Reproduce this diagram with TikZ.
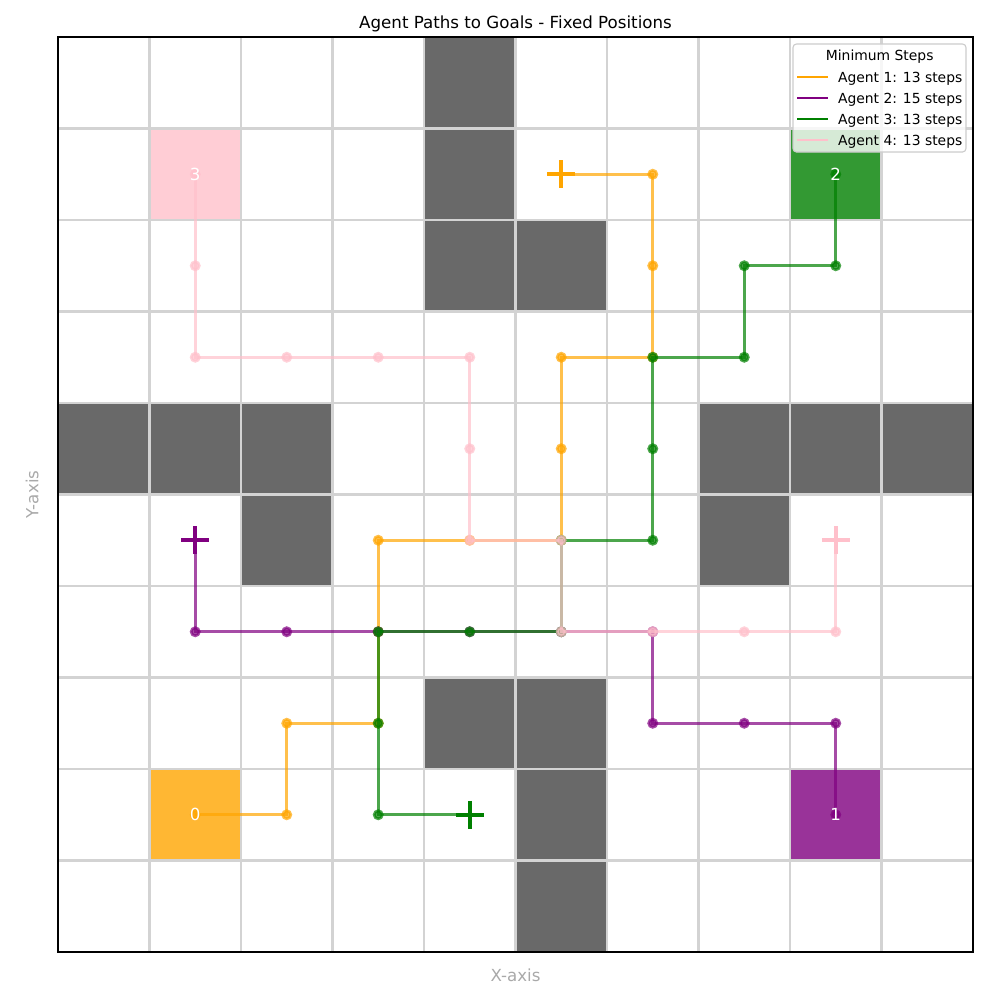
\documentclass[tikz,border=0pt]{standalone}
\usepackage{fontspec}
\setmainfont{DejaVu Sans}
\usetikzlibrary{positioning}
\definecolor{agentone}{HTML}{FFA500}
\definecolor{agenttwo}{HTML}{800080}
\definecolor{agentthree}{HTML}{008000}
\definecolor{agentfour}{HTML}{FFC0CB}
\definecolor{wallgray}{HTML}{696969}
\definecolor{gridgray}{HTML}{D3D3D3}
\definecolor{axisgray}{HTML}{A9A9A9}
\definecolor{legendedge}{HTML}{CCCCCC}
\newcommand{\goalplus}[2]{\draw[goalmark=#1] (#2) ++(-0.152,0) -- ++(0.304,0) (#2) ++(0,-0.152) -- ++(0,0.304);}

\begin{document}
\begin{tikzpicture}[x=65.88pt,y=-65.88pt,
  startcell/.style={fill=#1,fill opacity=0.8},
  gridline/.style={draw=gridgray,line width=2pt},
  route/.style={draw=#1,line width=2pt,opacity=0.7,mark=*,mark size=2.9pt,mark options={fill=#1,draw=#1}},
  goalmark/.style={draw=#1,line width=3pt},
  celllabel/.style={text=white,font=\fontsize{12}{14}\selectfont,inner sep=0pt},
  axlabel/.style={text=axisgray,font=\fontsize{12}{14}\selectfont,inner sep=0pt,anchor=base},
  legtext/.style={font=\fontsize{10}{12}\selectfont,inner sep=0pt,anchor=base west}]
\useasboundingbox (-0.6339,-0.4044) rectangle (10.2951,10.5246);

\foreach \c/\r in {4/0,4/1,4/2,5/2,0/4,1/4,2/4,7/4,8/4,9/4,2/5,7/5,4/7,5/7,5/8,5/9}
  \fill[wallgray] (\c,\r) rectangle ++(1,1);
\fill[startcell=agentone] (1,8) rectangle ++(1,1);
\fill[startcell=agenttwo] (8,8) rectangle ++(1,1);
\fill[startcell=agentthree] (8,1) rectangle ++(1,1);
\fill[startcell=agentfour] (1,1) rectangle ++(1,1);

\begin{scope}
\clip (0,0) rectangle (10,10);
\foreach \i in {0,...,10} {
  \draw[gridline] (\i,0) -- (\i,10);
  \draw[gridline] (0,\i) -- (10,\i);
}
\end{scope}

\draw[route=agentone,mark indices={1,...,13}] plot coordinates {(1.5,8.5) (2.5,8.5) (2.5,7.5) (3.5,7.5) (3.5,6.5) (3.5,5.5) (4.5,5.5) (5.5,5.5) (5.5,4.5) (5.5,3.5) (6.5,3.5) (6.5,2.5) (6.5,1.5) (5.5,1.5)};
\draw[route=agenttwo,mark indices={1,...,10}] plot coordinates {(8.5,8.5) (8.5,7.5) (7.5,7.5) (6.5,7.5) (6.5,6.5) (5.5,6.5) (4.5,6.5) (3.5,6.5) (2.5,6.5) (1.5,6.5) (1.5,5.5)};
\draw[route=agentthree,mark indices={1,...,13}] plot coordinates {(8.5,1.5) (8.5,2.5) (7.5,2.5) (7.5,3.5) (6.5,3.5) (6.5,4.5) (6.5,5.5) (5.5,5.5) (5.5,6.5) (4.5,6.5) (3.5,6.5) (3.5,7.5) (3.5,8.5) (4.5,8.5)};
\draw[route=agentfour,mark indices={1,...,13}] plot coordinates {(1.5,1.5) (1.5,2.5) (1.5,3.5) (2.5,3.5) (3.5,3.5) (4.5,3.5) (4.5,4.5) (4.5,5.5) (5.5,5.5) (5.5,6.5) (6.5,6.5) (7.5,6.5) (8.5,6.5) (8.5,5.5)};

\coordinate (goalone) at (5.5,1.5);
\coordinate (goaltwo) at (1.5,5.5);
\coordinate (goalthree) at (4.5,8.5);
\coordinate (goalfour) at (8.5,5.5);
\goalplus{agentone}{goalone}
\goalplus{agenttwo}{goaltwo}
\goalplus{agentthree}{goalthree}
\goalplus{agentfour}{goalfour}

\node[celllabel] (startone) at (1.5,8.5) {0};
\node[celllabel] (starttwo) at (8.5,8.5) {1};
\node[celllabel] (startthree) at (8.5,1.5) {2};
\node[celllabel] (startfour) at (1.5,1.5) {3};

\draw[line width=0.8pt] (0,0) rectangle (10,10);

\draw[draw=legendedge,fill=white,fill opacity=0.8,line width=0.8pt,rounded corners=2.5pt] (8.033,0.0765) rectangle (9.923,1.257);
\node[legtext,anchor=base] (legtitle) at (8.98,0.262) {Minimum Steps};
\foreach \k/\col/\name/\n in {0/agentone/1/13,1/agenttwo/2/15,2/agentthree/3/13,3/agentfour/4/13} {
  \draw[draw=\col,line width=2pt] (8.080,0.437+0.2297*\k) -- (8.419,0.437+0.2297*\k);
  \node[legtext] (leg\name) at (8.522,0.495+0.2297*\k) {Agent \name: \n\ steps};
}

\node[axlabel,text=black] (plottitle) at (5,-0.092) {Agent Paths to Goals - Fixed Positions};
\node[axlabel] (xlabel) at (5,10.317) {X-axis};
\node[axlabel,rotate=90] (ylabel) at (-0.215,5) {Y-axis};
\end{tikzpicture}
\end{document}
